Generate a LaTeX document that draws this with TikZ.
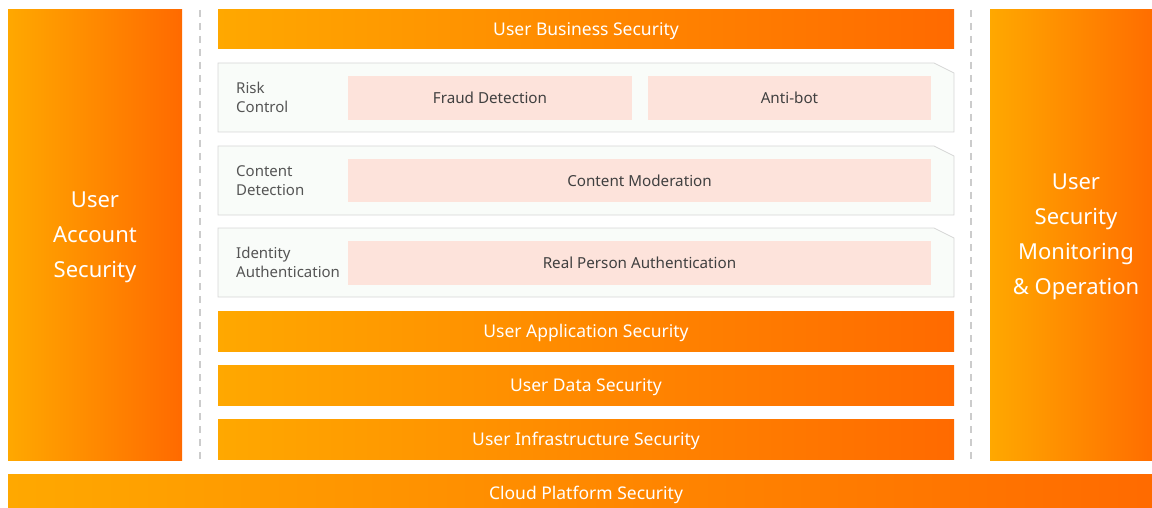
\documentclass[tikz,border=0pt]{standalone}
\usepackage{fontspec}
\setmainfont{Noto Sans}
\usetikzlibrary{positioning}
\definecolor{orA}{HTML}{FFA800}
\definecolor{orB}{HTML}{FF6A00}
\definecolor{pnl}{HTML}{F9FCF9}
\definecolor{pnlb}{HTML}{D6D6D6}
\definecolor{pink}{HTML}{FDE3DB}
\definecolor{lbl}{HTML}{555555}
\definecolor{dsh}{HTML}{CCCCCC}
\tikzset{
  bar/.style={left color=orA, right color=orB, draw=none, inner sep=0pt, text=white, text depth=0pt, font=\fontsize{17.5}{19}\selectfont},
  colbox/.style={left color=orA, right color=orB, draw=none, inner sep=0pt},
  coltext/.style={inner sep=0pt, text=white, align=center, font=\fontsize{22}{35}\selectfont},
  panel/.style={fill=pnl, draw=pnlb, line width=0.8pt},
  pinkbox/.style={fill=pink, draw=none, inner sep=0pt, text=black!75, font=\fontsize{15.2}{17}\selectfont},
  plabel/.style={anchor=west, align=left, text=lbl, inner sep=0pt, font=\fontsize{15}{19}\selectfont},
  sep/.style={draw=dsh, line width=1.2pt, dash pattern=on 7pt off 6pt}
}
\begin{document}
\begin{tikzpicture}[x=1pt,y=-1pt]
\useasboundingbox (0,0) rectangle (1152,508);
% side columns
\node[colbox, minimum width=174pt, minimum height=450pt] (uas) at (95,235) {};
\node[coltext] (uast) at (95,237) {User\\Account\\Security};
\node[colbox, minimum width=172pt, minimum height=450pt] (usm) at (1076,235) {};
\node[coltext] (usmt) at (1076,237) {User\\Security\\Monitoring\\\& Operation};
% bottom bar
\node[bar, minimum width=1156pt, minimum height=38pt] (cps) at (586,493) {Cloud Platform Security};
% separators
\coordinate (d1t) at (200,10); \coordinate (d1b) at (200,460);
\coordinate (d2t) at (971,10); \coordinate (d2b) at (971,460);
\draw[sep] (d1t) -- (d1b);
\draw[sep] (d2t) -- (d2b);
% center bars
\node[bar, minimum width=736pt, minimum height=39pt] (ubs) at (586,29.5) {User Business Security};
\node[bar, minimum width=736pt, minimum height=40pt] (uaps) at (586,331) {User Application Security};
\node[bar, minimum width=736pt, minimum height=40pt] (uds) at (586,385) {User Data Security};
\node[bar, minimum width=736pt, minimum height=40pt] (uis) at (586,439) {User Infrastructure Security};
% panels
\path[panel] (218,63) -- (934,63) -- (954,73) -- (954,132) -- (218,132) -- cycle;
\path[panel] (218,146) -- (934,146) -- (954,156) -- (954,215) -- (218,215) -- cycle;
\path[panel] (218,228) -- (934,228) -- (954,238) -- (954,297) -- (218,297) -- cycle;
% panel labels
\node[plabel] (rc) at (236,97.5) {Risk\\Control};
\node[plabel] (cd) at (236,180.5) {Content\\Detection};
\node[plabel] (ia) at (236,262.5) {Identity\\Authentication};
% pink boxes
\node[pinkbox, minimum width=284pt, minimum height=44pt] (fd) at (490,98) {Fraud Detection};
\node[pinkbox, minimum width=283pt, minimum height=44pt] (ab) at (789.5,98) {Anti-bot};
\node[pinkbox, minimum width=583pt, minimum height=43pt] (cm) at (639.5,180.5) {Content Moderation};
\node[pinkbox, minimum width=583pt, minimum height=44pt] (rpa) at (639.5,263) {Real Person Authentication};
\end{tikzpicture}
\end{document}
